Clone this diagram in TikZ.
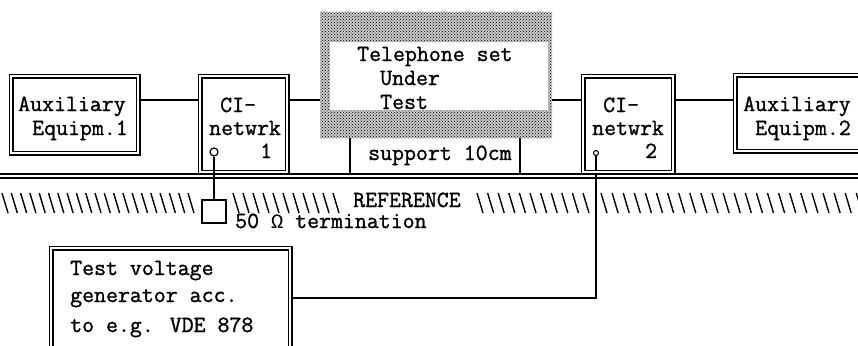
\documentclass[tikz,border=0pt]{standalone}
\usepackage{fontspec}
\newfontfamily\tw{Latin Modern Mono}[FakeBold=1.2]
\newfontfamily\omf{Liberation Mono}
\usetikzlibrary{patterns,backgrounds}
\begin{document}
\begin{tikzpicture}[x=1pt,y=-1pt,
  lbl/.style={anchor=base west,inner sep=0pt,font=\tw\fontsize{23.2}{26}\selectfont},
  dbox/.style={draw,line width=1.2pt,double=white,double distance=2.6pt,rectangle,inner sep=0pt,outer sep=0pt},
  sbox/.style={draw,line width=1.2pt,rectangle,inner sep=0pt,outer sep=0pt,fill=white},
  wire/.style={line width=1.2pt},
  hatch/.style={line width=1.4pt}]
\useasboundingbox (0,0) rectangle (858,345);
\clip (0,0) rectangle (858,345);

% boxes
\node[dbox,minimum width=127pt,minimum height=77pt] (aux1) at (74.5,114.5) {};
\node[dbox,minimum width=87pt,minimum height=96pt] (ci1) at (243.5,124) {};
\node[dbox,minimum width=90pt,minimum height=96pt] (ci2) at (628,124) {};
\node[dbox,minimum width=145pt,minimum height=76pt] (aux2) at (807.5,113) {};
\node[dbox,minimum width=239pt,minimum height=122pt] (gen) at (170.5,309) {};
\node[rectangle,inner sep=0pt,outer sep=0pt,preaction={fill=black!22},pattern=crosshatch dots,minimum width=232pt,minimum height=126pt] (phone) at (436,75) {};
\node[rectangle,fill=white,inner sep=0pt,minimum width=218pt,minimum height=68pt] (phonein) at (439,76) {};
\node[sbox,minimum width=24pt,minimum height=23pt] (term) at (214,211.5) {};
\node[circle,draw,line width=1.2pt,minimum size=8pt,inner sep=0pt,fill=white] (c1) at (214,152) {};
\node[circle,draw,line width=1.1pt,minimum size=5pt,inner sep=0pt,fill=white] (c2) at (596,153) {};

% coordinates
\coordinate (row) at (0,100);
\coordinate (genrow) at (0,298);
\coordinate (gl) at (0,174);
\coordinate (gr) at (858,174);
\coordinate (gl2) at (0,178);
\coordinate (gr2) at (858,178);
\coordinate (s1) at (350,174);
\coordinate (s2) at (520,174);

\begin{pgfonlayer}{background}
\draw[wire] (aux1.east |- row) -- (ci1.west |- row);
\draw[wire] (ci1.east |- row) -- (phone.west |- row);
\draw[wire] (phone.east |- row) -- (ci2.west |- row);
\draw[wire] (ci2.east |- row) -- (aux2.west |- row);
\draw[wire] (gen.east |- genrow) -| (c2.south);
\end{pgfonlayer}

% ground
\draw[wire] (gl) -- (gr);
\draw[wire] (gl2) -- (gr2);
% support
\draw[wire] (phone.south -| s1) -- (s1);
\draw[wire] (phone.south -| s2) -- (s2);
% termination
\draw[wire] (c1.south) -- (term.north);

% hatching
\foreach \i in {0,...,20} \draw[hatch] ({2+\i*9.3},193) -- ++(6,20);
\foreach \i in {0,...,10} \draw[hatch] ({233+\i*10},193) -- ++(6,20);
\foreach \i in {0,...,10} \draw[hatch] ({477+\i*10.6},193) -- ++(6,20);
\foreach \i in {0,...,23} \draw[hatch] ({601+\i*11.1},193) -- ++(6,20);

% texts
\node[lbl] (ta1) at (18,111) {Auxiliary};
\node[lbl] (ta1b) at (32,135) {Equipm.1};
\node[lbl] (tc1) at (220,112) {CI-};
\node[lbl] (tc1b) at (209,135) {netwrk};
\node[lbl] (tc1n) at (260,158) {1};
\node[lbl] (tp1) at (357,61) {Telephone set};
\node[lbl] (tp2) at (380,85) {Under};
\node[lbl] (tp3) at (380,109) {Test};
\node[lbl] (ts) at (368,160) {support 10cm};
\node[lbl] (tc2) at (603,112) {CI-};
\node[lbl] (tc2b) at (592,135) {netwrk};
\node[lbl] (tc2n) at (645,158) {2};
\node[lbl] (ta2) at (743,111) {Auxiliary};
\node[lbl] (ta2b) at (755,135) {Equipm.2};
\node[lbl] (tref) at (353,207) {REFERENCE};
\node[lbl] (tterm) at (235,228) {50 {\omf\fontsize{20.3}{24}\selectfont Ω} termination};
\node[lbl] (tg1) at (70,275) {Test voltage};
\node[lbl] (tg2) at (70,302) {generator acc.};
\node[lbl] (tg3) at (70,332) {to e.g. VDE 878};
\end{tikzpicture}
\end{document}
